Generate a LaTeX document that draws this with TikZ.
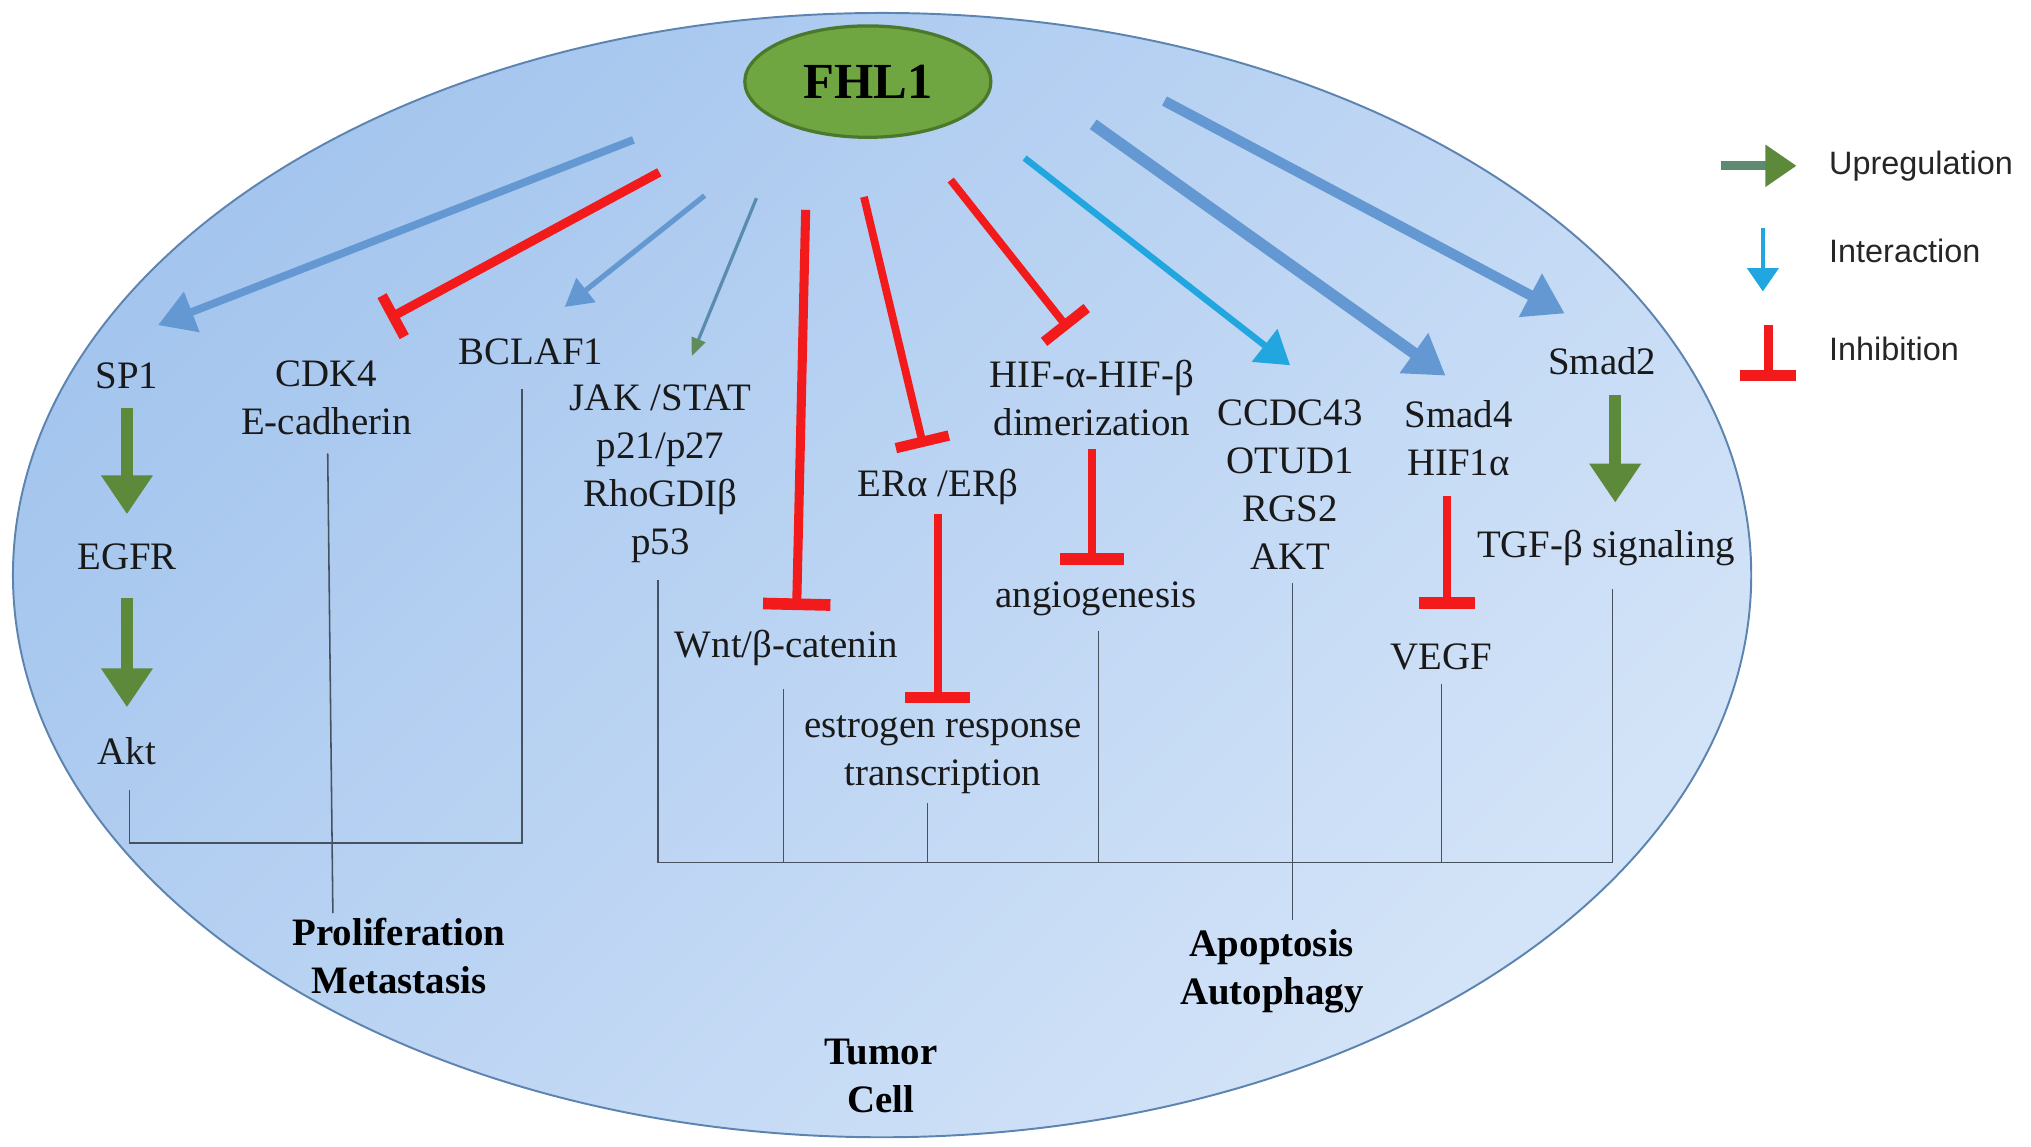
\documentclass[tikz,border=0pt]{standalone}
\usepackage{fontspec}
\setmainfont{Liberation Serif}
\newfontfamily\legendfont{Liberation Sans}
\usetikzlibrary{arrows.meta, shapes.geometric}

\definecolor{cellA}{RGB}{164,197,238}
\definecolor{cellB}{RGB}{212,228,248}
\definecolor{cellrim}{RGB}{93,132,176}
\definecolor{fhlfill}{RGB}{112,166,66}
\definecolor{fhlrim}{RGB}{76,120,44}
\definecolor{upgreen}{RGB}{92,138,58}
\definecolor{upshaft}{RGB}{94,138,112}
\definecolor{intblue}{RGB}{100,152,210}
\definecolor{intcyan}{RGB}{34,166,224}
\definecolor{thinblue}{RGB}{90,140,176}
\definecolor{thingreen}{RGB}{95,140,90}
\definecolor{inhred}{RGB}{242,26,26}
\definecolor{linkgray}{RGB}{70,82,96}

\begin{document}
\begin{tikzpicture}[x=1pt, y=-1pt]
	\tikzstyle{txt} = [font=\fontsize{30}{37}\selectfont, align=center, inner sep=2pt, text=black!90]
	\tikzstyle{btxt} = [font=\fontsize{30}{37}\selectfont\bfseries, align=center, inner sep=2pt]
	\tikzstyle{leg} = [font=\legendfont\fontsize{25}{30}\selectfont, anchor=west, inner sep=0pt, text=black!85]
	\tikzstyle{link} = [draw=linkgray, line width=1.2pt]
	\tikzstyle{interact} = [-{Triangle[length=30pt,width=36pt]}, intblue, line width=8pt]
	\tikzstyle{upreg} = [-{Triangle[length=30pt,width=38pt]}, upgreen, line width=9pt]
	\tikzstyle{inhib} = [-{Bar[width=50pt,line width=9pt]}, inhred, line width=6.5pt]

	\useasboundingbox (0,0) rectangle (1568,885.5);

	% tumor cell and FHL1
	\node (cell) [ellipse, draw=cellrim, line width=1.5pt, top color=cellA, bottom color=cellB, shading angle=45, minimum width=1342pt, minimum height=868pt] at (681,444) {};
	\node (fhl) [ellipse, draw=fhlrim, line width=2.5pt, fill=fhlfill, minimum width=190pt, minimum height=86pt, font=\fontsize{39}{40}\selectfont\bfseries] at (670,63) {FHL1};

	% targets
	\node (sp) [txt] at (98,290) {SP1};
	\node (egfr) [txt] at (98,430) {EGFR};
	\node (akt) [txt] at (98,580) {Akt};
	\node (cdk) [txt] at (252,307) {CDK4\\E-cadherin};
	\node (bclaf) [txt] at (410,272) {BCLAF1};
	\node (jak) [txt] at (510,366) {JAK /STAT\\p21/p27\\RhoGDIβ\\p53};
	\node (wnt) [txt] at (607,500) {Wnt/β-catenin};
	\node (era) [txt] at (724,376) {ERα /ERβ};
	\node (estr) [txt] at (728,583) {estrogen response\\transcription};
	\node (hif) [txt] at (843,307) {HIF-α-HIF-β\\dimerization};
	\node (angio) [txt] at (846,462) {angiogenesis};
	\node (ccdc) [txt] at (996,374) {CCDC43\\OTUD1\\RGS2\\AKT};
	\node (smadf) [txt] at (1126,338) {Smad4\\HIF1α};
	\node (vegf) [txt] at (1113,507) {VEGF};
	\node (smadt) [txt] at (1237,279) {Smad2};
	\node (tgf) [txt] at (1240,423) {TGF-β signaling};

	% outcomes
	\node (prolif) [btxt] at (308,738) {Proliferation\\Metastasis};
	\node (apop) [btxt] at (982,750) {Apoptosis\\Autophagy};
	\node (tumor) [btxt] at (680,831) {Tumor\\Cell};

	% arrows from FHL1
	\coordinate (o1) at (489,108);
	\coordinate (o2) at (509,133);
	\coordinate (o3) at (544,151);
	\coordinate (o4) at (584,153);
	\coordinate (o5) at (622,162);
	\coordinate (o6) at (667,152);
	\coordinate (o7) at (734,139);
	\coordinate (o8) at (791,122);
	\coordinate (o9) at (844,96);
	\coordinate (o10) at (899,78);
	\draw[interact, line width=6pt, -{Triangle[length=28pt,width=32pt]}] (o1) -- ([shift={(24,-39)}]sp.center);
	\draw[inhib, line width=7pt, -{Bar[width=36pt,line width=8pt]}] (o2) -- ([shift={(48,-61)}]cdk.center);
	\draw[interact, line width=4pt, -{Triangle[length=21pt,width=23pt]}] (o3) -- ([shift={(26,-35)}]bclaf.center);
	\draw[thinblue, line width=2.5pt, -{Triangle[length=14pt,width=11pt,color=thingreen]}] (o4) -- ([shift={(24,-91)}]jak.center);
	\draw[inhib, line width=7pt, -{Bar[width=52pt,line width=9pt]}] (o5) -- ([shift={(8,-29)}]wnt.center);
	\draw[inhib, line width=6pt, -{Bar[width=42pt,line width=8pt]}] (o6) -- ([shift={(-11,-31)}]era.center);
	\draw[inhib, line width=6pt, -{Bar[width=42pt,line width=8pt]}] (o7) -- ([shift={(-18,-53)}]hif.center);
	\draw[interact, intcyan, line width=5pt, -{Triangle[length=25pt,width=31pt]}] (o8) -- ([shift={(0,-92)}]ccdc.center);
	\draw[interact, line width=9pt] (o9) -- ([shift={(-10,-48)}]smadf.center);
	\draw[interact] (o10) -- ([shift={(-29,-37)}]smadt.center);

	% cascades
	\draw[upreg] ([shift={(0,25)}]sp.center) -- ([shift={(0,-33)}]egfr.center);
	\draw[upreg] ([shift={(0,32)}]egfr.center) -- ([shift={(0,-34)}]akt.center);
	\draw[upreg] ([shift={(10,26)}]smadt.center) -- ([shift={(7,-35)}]tgf.center);
	\draw[inhib] ([shift={(0,21)}]era.center) -- ([shift={(-4,-40)}]estr.center);
	\draw[inhib] ([shift={(0,40)}]hif.center) -- ([shift={(-3,-26)}]angio.center);
	\draw[inhib, -{Bar[width=43pt,line width=9pt]}] ([shift={(-9,45)}]smadf.center) -- ([shift={(4,-37)}]vegf.center);

	% brackets to outcomes
	\coordinate (lbus) at (250,651);
	\coordinate (rbus) at (876,666);
	\draw[link] ([shift={(2,30)}]akt.center) |- (lbus) -| ([shift={(-7,28)}]bclaf.center);
	\draw[link] ([shift={(1,43)}]cdk.center) -- ([shift={(-51,-33)}]prolif.center);
	\draw[link] ([shift={(-2,82)}]jak.center) |- (rbus) -| ([shift={(5,32)}]tgf.center);
	\draw[link] ([shift={(-2,32)}]wnt.center) -- ([xshift=-2pt]wnt.center |- rbus);
	\draw[link] ([shift={(-12,37)}]estr.center) -- ([xshift=-12pt]estr.center |- rbus);
	\draw[link] ([shift={(2,25)}]angio.center) -- ([xshift=2pt]angio.center |- rbus);
	\draw[link] ([shift={(0,21)}]vegf.center) -- (vegf.center |- rbus);
	\draw[link] ([shift={(2,76)}]ccdc.center) -- ([shift={(16,-40)}]apop.center);

	% legend
	\node (lup) [leg] at (1412,128) {Upregulation};
	\node (lint) [leg] at (1412,194) {Interaction};
	\node (linh) [leg] at (1412,269) {Inhibition};
	\draw[upshaft, line width=7pt, -{Triangle[length=24pt,width=31pt,color=upgreen]}] ([shift={(-83,0)}]lup.west) -- ([shift={(-25,0)}]lup.west);
	\draw[intcyan, line width=3pt, -{Triangle[length=18pt,width=24pt]}] ([shift={(-51,-18)}]lint.west) -- ([shift={(-51,31)}]lint.west);
	\draw[inhib, line width=7pt, -{Bar[width=43pt,line width=8pt]}] ([shift={(-47,-18)}]linh.west) -- ([shift={(-47,25)}]linh.west);
\end{tikzpicture}
\end{document}
